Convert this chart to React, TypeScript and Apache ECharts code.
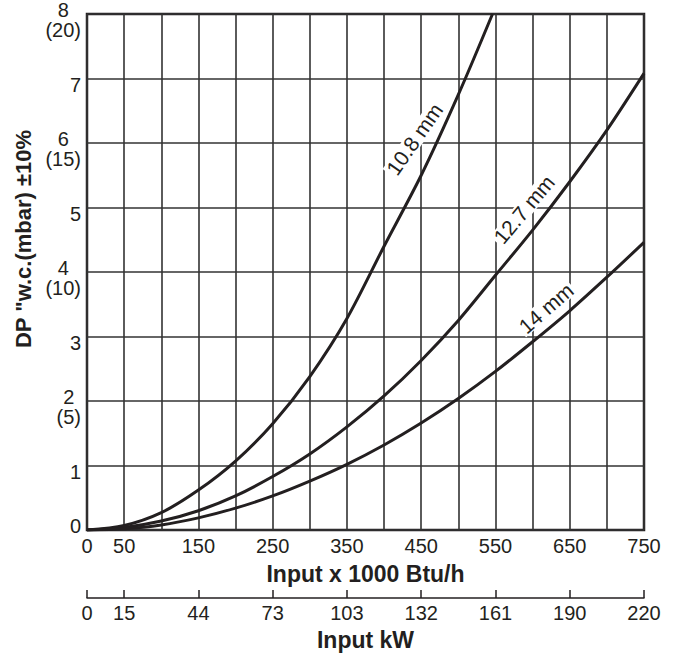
import React, { useEffect, useRef } from "react";
import * as echarts from "echarts";

// ---- data ----
const inputBtu = [0, 50, 100, 150, 200, 250, 300, 350, 400, 450, 500, 550, 600, 650, 700, 750];
const input108 = [0, 50, 100, 150, 200, 250, 300, 350, 400, 450, 500, 546];
const dp108 = [0, 0.07, 0.27, 0.62, 1.07, 1.65, 2.38, 3.28, 4.4, 5.5, 6.75, 8.0];
const dp127 = [0, 0.04, 0.14, 0.3, 0.53, 0.83, 1.18, 1.6, 2.08, 2.63, 3.25, 3.95, 4.65, 5.4, 6.2, 7.08];
const dp14 = [0, 0.02, 0.08, 0.19, 0.34, 0.53, 0.76, 1.02, 1.32, 1.66, 2.04, 2.46, 2.92, 3.4, 3.92, 4.46];

const btuLabelTicks = [0, 50, 150, 250, 350, 450, 550, 650, 750];
const kwLabels = ["0", "15", "44", "73", "103", "132", "161", "190", "220"];
const mbarLabels = ["", "", "(5)", "", "(10)", "", "(15)", "", "(20)"];
const curveNames = ["10.8 mm", "12.7 mm", "14 mm"];

// label anchors in data space (Btu, DP) and rotation
const labelAnchors: [number, number][] = [
  [441, 6.06],
  [588.5, 4.97],
  [618, 3.44],
];
const labelRotations = [55, 50, 41];

const INK = "#231f20";
const FONT = "'Liberation Sans', Arial, Helvetica, sans-serif";

export default function App() {
  const ref = useRef<HTMLDivElement>(null);

  useEffect(() => {
    document.body.style.margin = "0";
    if (!ref.current) return;
    const chart = echarts.init(ref.current, undefined, { renderer: "svg" });

    const makeSeries = (xs: number[], ys: number[], idx: number) => ({
      type: "line",
      name: curveNames[idx],
      xAxisIndex: 0,
      yAxisIndex: 0,
      data: xs.map((x, i) => [x, ys[i]]),
      showSymbol: false,
      smooth: 0.3,
      clip: true,
      z: 3,
      lineStyle: { color: INK, width: 3 },
      markPoint: {
        silent: true,
        symbol: "circle",
        symbolSize: 0,
        z: 5,
        data: [{ coord: labelAnchors[idx] }],
        label: {
          show: true,
          position: "inside",
          formatter: curveNames[idx],
          rotate: labelRotations[idx],
          fontSize: 21,
          lineHeight: 18,
          fontFamily: FONT,
          color: INK,
          backgroundColor: "#ffffff",
          padding: [0, 2, 0, 2],
        },
      },
    });

    const option = {
      animation: false,
      textStyle: { fontFamily: FONT, color: INK },
      grid: {
        left: 87,
        right: 36,
        top: 12,
        bottom: 124,
        show: true,
        borderColor: INK,
        borderWidth: 2.5,
        backgroundColor: "transparent",
      },
      xAxis: [
        {
          type: "value",
          min: 0,
          max: 750,
          interval: 50,
          position: "bottom",
          axisLine: { show: false },
          axisTick: { show: false },
          splitLine: { show: true, lineStyle: { color: "#333333", width: 1.6 } },
          axisLabel: {
            fontSize: 20,
            color: INK,
            fontFamily: FONT,
            margin: 6,
            formatter: (v: number) => (btuLabelTicks.indexOf(v) >= 0 ? String(v) : ""),
          },
          name: "Input x 1000 Btu/h",
          nameLocation: "middle",
          nameGap: 32,
          nameTextStyle: { fontSize: 23, fontWeight: "bold", color: INK, fontFamily: FONT },
        },
        {
          type: "value",
          min: 0,
          max: 750,
          interval: 50,
          position: "bottom",
          offset: 68,
          axisLine: { show: true, lineStyle: { color: INK, width: 1.5 } },
          axisTick: {
            show: true,
            inside: true,
            length: 8,
            customValues: btuLabelTicks,
            lineStyle: { color: INK, width: 1.5 },
          },
          splitLine: { show: false },
          axisLabel: {
            fontSize: 20,
            color: INK,
            fontFamily: FONT,
            margin: 5,
            customValues: btuLabelTicks,
            formatter: (v: number) => {
              const i = btuLabelTicks.indexOf(v);
              return i >= 0 ? kwLabels[i] : "";
            },
          },
          name: "Input kW",
          nameLocation: "middle",
          nameGap: 29,
          nameTextStyle: { fontSize: 23, fontWeight: "bold", color: INK, fontFamily: FONT },
        },
      ],
      yAxis: {
        type: "value",
        min: 0,
        max: 8,
        interval: 1,
        axisLine: { show: false },
        axisTick: { show: false },
        splitLine: { show: true, lineStyle: { color: "#333333", width: 1.6 } },
        axisLabel: {
          fontSize: 20,
          color: INK,
          fontFamily: FONT,
          margin: 6,
          padding: [12, 0, 0, 0],
          formatter: (v: number) => {
            const i = Math.round(v);
            if (i === 0) return "{z|0}";
            if (mbarLabels[i]) return `{t|${i}}\n{t|${mbarLabels[i]}}`;
            return `{s|${i}}`;
          },
          rich: {
            t: { fontSize: 20, lineHeight: 20, align: "center", color: INK, fontFamily: FONT },
            s: { fontSize: 20, lineHeight: 20, color: INK, fontFamily: FONT },
            z: { fontSize: 20, lineHeight: 20, padding: [0, 0, 20, 0], color: INK, fontFamily: FONT },
          },
        },
      },
      graphic: [
        {
          type: "text",
          x: 23,
          y: 239,
          rotation: Math.PI / 2,
          silent: true,
          style: {
            text: 'DP "w.c.(mbar) \u00b110%',
            font: `bold 22px ${FONT}`,
            fill: INK,
            align: "center",
            verticalAlign: "middle",
          },
        },
      ],
      series: [
        makeSeries(input108, dp108, 0),
        makeSeries(inputBtu, dp127, 1),
        makeSeries(inputBtu, dp14, 2),
      ],
    };

    chart.setOption(option as any);
    return () => {
      chart.dispose();
    };
  }, []);

  return <div ref={ref} style={{ width: 680, height: 656 }} />;
}
